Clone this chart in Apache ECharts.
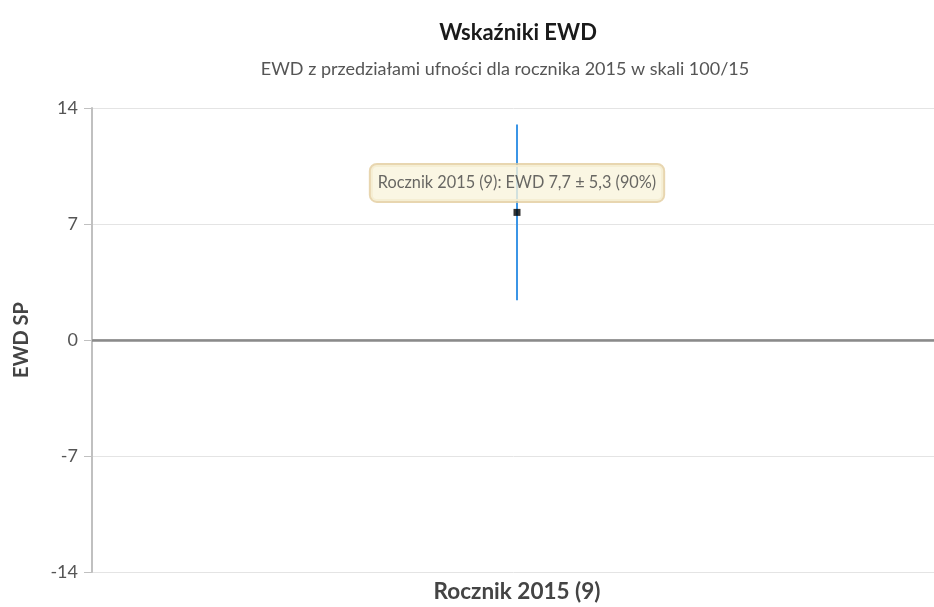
<!DOCTYPE html>
<html><head><meta charset="utf-8">
<script src="https://cdn.jsdelivr.net/npm/echarts@6/dist/echarts.min.js"></script>
<style>html,body{margin:0;padding:0;background:#fff}#c{width:934px;height:607px}</style>
</head><body><div id="c"></div>
<script>
var categories = ['Rocznik 2015 (9)'];
var ewdValues = [7.7];
var ewdMargins = [5.3];
var confidence = ['90%'];
var yTicks = [-14, -7, 0, 7, 14];

function fmt(v){ return String(v).replace('.', ','); }

var FONT = 'Lato';
var chart = echarts.init(document.getElementById('c'));
var errData = categories.map(function(c,i){ return [i, ewdValues[i]-ewdMargins[i], ewdValues[i]+ewdMargins[i]]; });
var ptData = categories.map(function(c,i){ return [i, ewdValues[i]]; });

chart.setOption({
  animation:false,
  textStyle:{fontFamily:FONT},
  title:[
    {text:'Wskaźniki EWD', left:513, textAlign:'center', top:17, textStyle:{fontFamily:FONT, fontSize:22, fontWeight:'bold', color:'#1a1a1a'}},
    {text:'EWD z przedziałami ufności dla rocznika 2015 w skali 100/15', left:500, textAlign:'center', top:55, textStyle:{fontFamily:FONT, fontSize:18, fontWeight:'normal', color:'#555'}}
  ],
  grid:{left:92, right:-8, top:108, bottom:35, outerBoundsMode:'none', containLabel:false},
  xAxis:{type:'category', data:categories, boundaryGap:true,
    axisLine:{lineStyle:{color:'#c8c8c8', width:2}},
    axisTick:{alignWithLabel:true, length:5, lineStyle:{color:'#c0c0c0'}},
    axisLabel:{fontFamily:FONT, fontSize:22.5, fontWeight:'bold', color:'#444', margin:8},
    splitLine:{show:false}},
  yAxis:{type:'value', min:-14, max:14, interval:7,
    name:'EWD SP', nameLocation:'middle', nameGap:60, nameRotate:90,
    nameTextStyle:{fontFamily:FONT, fontSize:20, fontWeight:'bold', color:'#444'},
    axisLine:{show:true, lineStyle:{color:'#c0c0c0', width:2}},
    axisTick:{show:true, length:8, lineStyle:{color:'#c0c0c0'}},
    axisLabel:{fontFamily:FONT, fontSize:18, color:'#555', margin:14,
      formatter:function(v){ return yTicks.indexOf(v)>=0 ? String(v) : ''; }},
    splitLine:{lineStyle:{color:'#e4e4e4'}}},
  series:[
    {type:'custom', data:errData, z:2,
      renderItem:function(params, api){
        var a = api.coord([api.value(0), api.value(1)]);
        var b = api.coord([api.value(0), api.value(2)]);
        return {type:'line', shape:{x1:a[0], y1:a[1], x2:b[0], y2:b[1]}, style:{stroke:'#3b95e6', lineWidth:2}};
      },
      markLine:{silent:true, symbol:'none', label:{show:false},
        lineStyle:{color:'#8a8a8a', width:2.5, type:'solid'},
        data:[{yAxis:0}]}
    },
    {type:'scatter', data:ptData, symbol:'rect', symbolSize:7, z:3,
      itemStyle:{color:'#000'},
      label:{show:true, position:'top', offset:[0,-3],
        formatter:function(p){ var i=p.dataIndex; return categories[i]+': EWD '+fmt(ewdValues[i])+' ± '+fmt(ewdMargins[i])+' ('+confidence[i]+')'; },
        fontFamily:FONT, fontSize:16.3, color:'#444',
        backgroundColor:'#f9f4dc', borderColor:'#e2cc9c', borderWidth:2, borderRadius:6,
        padding:[10,7,10,7]}
    }
  ]
});
</script></body></html>
